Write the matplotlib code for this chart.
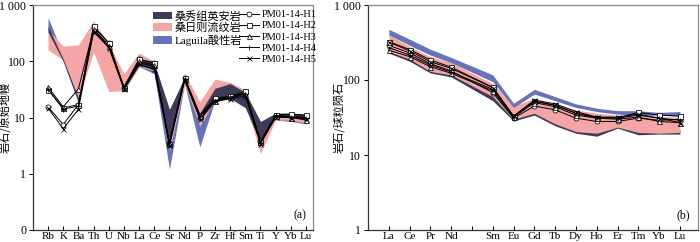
import numpy as np
import matplotlib
matplotlib.use("Agg")
import matplotlib.pyplot as plt
from matplotlib.patches import Patch
from matplotlib.lines import Line2D
from matplotlib.ticker import FixedLocator, NullLocator

plt.rcParams['font.family'] = ['Liberation Serif', 'Noto Sans CJK SC']
plt.rcParams['axes.unicode_minus'] = False

# ---- panel (a): primitive mantle normalised spider diagram ----
spider_elems = ["Rb", "K", "Ba", "Th", "U", "Nb", "La", "Ce", "Sr", "Nd",
                "P", "Zr", "Hf", "Sm", "Ti", "Y", "Yb", "Lu"]

spider_h1 = [15.5, 7.5, 17, 400, 215, 34, 108, 92, 3.5, 50, 9.8, 21, 23, 27.5, 3.8, 10.5, 10.5, 10]
spider_h2 = [31, 14.8, 17, 420, 210, 34, 108, 95, 3.4, 51, 11, 22, 24, 29, 3.7, 11, 11.5, 11]
spider_h3 = [35, 15.5, 32, 370, 190, 35, 100, 85, 3.5, 49, 10.5, 20, 23, 26.5, 3.6, 10.5, 10, 9]
spider_h4 = [32, 14, 16, 350, 185, 34, 95, 80, 3.3, 48, 10.5, 20, 22, 26.5, 3.5, 10.9, 10.3, 10]
spider_h5 = [14.8, 6.3, 14, 335, 175, 32, 88, 72, 3.2, 46, 9.5, 19.5, 21.5, 24, 3.4, 10.3, 10, 9.5]

# fields: (lower, upper)
sangxiu_lo_a = [330, 100, 19, 330, 175, 31, 85, 70, 3.3, 45, 9, 19, 22, 15, 3.5, 10, 10, 9.5]
sangxiu_hi_a = [420, 110, 22, 380, 195, 36, 105, 95, 14, 52, 12, 33, 40, 28, 8.5, 12, 12, 11.5]
sangri_lo_a = [160, 105, 22, 145, 29, 30, 80, 68, 2.5, 40, 7, 20, 22, 18, 2.3, 9, 9, 8]
sangri_hi_a = [370, 185, 195, 520, 205, 60, 140, 100, 8, 62, 19, 48, 42, 31, 6, 12, 11.5, 11]
laguila_lo_a = [350, 100, 18, 300, 170, 30, 80, 60, 1.2, 40, 3, 20, 22, 15, 4, 9, 8.5, 7.7]
laguila_hi_a = [600, 130, 30, 400, 210, 50, 100, 90, 5, 50, 10, 35, 30, 25, 6, 11, 10, 9.5]

# ---- panel (b): chondrite normalised REE ----
ree_elems = ["La", "Ce", "Pr", "Nd", "", "Sm", "Eu", "Gd", "Tb", "Dy", "Ho", "Er", "Tm", "Yb", "Lu"]
ree_pos = [0, 1, 2, 3, 5, 6, 7, 8, 9, 10, 11, 12, 13, 14]  # Pm skipped

ree_h1 = [290, 230, 165, 132, 68, 31, 45, 40, 31, 28, 28, 31, 29, 30]
ree_h2 = [325, 255, 185, 148, 80, 33, 52, 46, 36, 31, 31, 37, 34, 33]
ree_h3 = [250, 205, 150, 123, 72, 32, 50, 44, 34, 31, 30, 32, 28, 27]
ree_h4 = [270, 215, 158, 128, 75, 32, 52, 46, 36, 32, 31, 34, 31, 29]
ree_h5 = [320, 245, 175, 143, 79, 33, 54, 48, 38, 32, 32, 35, 31, 27]

sangxiu_lo_b = [228, 178, 124, 110, 53, 28.5, 34, 24.5, 19.5, 17.8, 22.8, 18.6, 19, 19]
sangxiu_hi_b = [260, 200, 140, 125, 62, 32, 40, 30, 24, 22, 26, 22, 22, 22]
sangri_lo_b = [240, 190, 130, 117, 60, 30, 36, 26, 20.5, 19.5, 23.5, 20, 19.5, 20]
sangri_hi_b = [400, 280, 205, 170, 90, 45, 57, 48, 40, 36, 34, 34, 32.5, 32]
laguila_lo_b = [400, 290, 215, 170, 95, 43, 65, 53, 43, 38, 35, 34, 34, 33]
laguila_hi_b = [475, 350, 257, 200, 117, 49, 75, 60, 48, 42, 39, 39, 37, 38]

c_dark = "#3e3b58"
c_pink = "#f5a5a5"
c_blue = "#6673b8"

samples = ["PM01-14-H1", "PM01-14-H2", "PM01-14-H3", "PM01-14-H4", "PM01-14-H5"]
markers = ["o", "s", "^", "+", "x"]
field_names = ["桑秀组英安岩", "桑日则流纹岩", "Laguila酸性岩"]


def style_axes(ax):
    for side in ["left", "bottom"]:
        ax.spines[side].set_color("#333333")
        ax.spines[side].set_linewidth(0.9)
    for side in ["top", "right"]:
        ax.spines[side].set_color("#888888")
        ax.spines[side].set_linewidth(0.9)
    ax.tick_params(axis="x", direction="in", length=3, width=0.7, labelsize=8, pad=1.5)
    ax.tick_params(axis="y", direction="out", length=3, width=0.7, labelsize=8.5, pad=2)
    ax.yaxis.set_minor_locator(NullLocator())


def draw_samples(ax, x, series):
    for vals, m in zip(series, markers):
        ax.plot(x, vals, color="black", lw=0.7, marker=m, ms=3.6, mfc="white",
                mec="black", mew=0.55, zorder=5)


fig = plt.figure(figsize=(7.0, 2.42), dpi=100)

# panel (a)
ax1 = fig.add_axes([33 / 700, 12 / 242, 280 / 700, 225 / 242])
xa = np.arange(len(spider_elems))
ax1.fill_between(xa, laguila_lo_a, laguila_hi_a, color=c_blue, lw=0, zorder=1)
ax1.fill_between(xa, sangri_lo_a, sangri_hi_a, color=c_pink, lw=0, zorder=2)
ax1.fill_between(xa, sangxiu_lo_a, sangxiu_hi_a, color=c_dark, lw=0, zorder=3)
draw_samples(ax1, xa, [spider_h1, spider_h2, spider_h3, spider_h4, spider_h5])
ax1.set_yscale("log")
ax1.set_ylim(0.1, 1000)
ax1.set_xlim(-0.99, 17.46)
ax1.set_xticks(xa)
ax1.set_xticklabels(spider_elems)
ax1.yaxis.set_major_locator(FixedLocator([0.1, 1, 10, 100, 1000]))
ax1.set_yticklabels(["0", "1", "10", "100", "1 000"])
ax1.set_ylabel("岩石/原始地幔", fontsize=8, family=['Noto Sans CJK SC'])
ax1.yaxis.set_label_coords(-0.08, 0.5)
style_axes(ax1)
ax1.text(0.975, 0.04, "(a)", transform=ax1.transAxes, ha="right", va="bottom", fontsize=8.5)

leg1 = ax1.legend([Patch(facecolor=c, edgecolor="none") for c in [c_dark, c_pink, c_blue]],
                  field_names, loc="upper left", bbox_to_anchor=(0.40, 1.01),
                  frameon=False, fontsize=8, handlelength=1.7, handleheight=0.7,
                  handletextpad=0.3, labelspacing=0.12, borderpad=0.2)
ax1.add_artist(leg1)
line_handles = [Line2D([], [], color="black", lw=0.7, marker=m, ms=3.6, mfc="white",
                       mec="black", mew=0.55) for m in markers]
ax1.legend(line_handles, samples, loc="upper left", bbox_to_anchor=(0.71, 1.01),
           frameon=False, fontsize=7.5, handlelength=1.9, handletextpad=0.3,
           labelspacing=0.18, borderpad=0.2)

# panel (b)
ax2 = fig.add_axes([368 / 700, 12 / 242, 330 / 700, 225 / 242])
ax2.fill_between(ree_pos, sangxiu_lo_b, sangxiu_hi_b, color=c_dark, lw=0, zorder=1)
ax2.fill_between(ree_pos, sangri_lo_b, sangri_hi_b, color=c_pink, lw=0, zorder=2)
ax2.fill_between(ree_pos, laguila_lo_b, laguila_hi_b, color=c_blue, lw=0, zorder=3)
draw_samples(ax2, ree_pos, [ree_h1, ree_h2, ree_h3, ree_h4, ree_h5])
ax2.set_yscale("log")
ax2.set_ylim(1, 1000)
ax2.set_xlim(-1.0, 14.87)
ax2.set_xticks(np.arange(len(ree_elems)))
ax2.set_xticklabels(ree_elems)
ax2.yaxis.set_major_locator(FixedLocator([1, 10, 100, 1000]))
ax2.set_yticklabels(["1", "10", "100", "1 000"])
ax2.set_ylabel("岩石/球粒陨石", fontsize=8, family=['Noto Sans CJK SC'])
ax2.yaxis.set_label_coords(-0.07, 0.5)
style_axes(ax2)
ax2.text(0.975, 0.04, "(b)", transform=ax2.transAxes, ha="right", va="bottom", fontsize=8.5)

fig.savefig("out.png", dpi=100)
